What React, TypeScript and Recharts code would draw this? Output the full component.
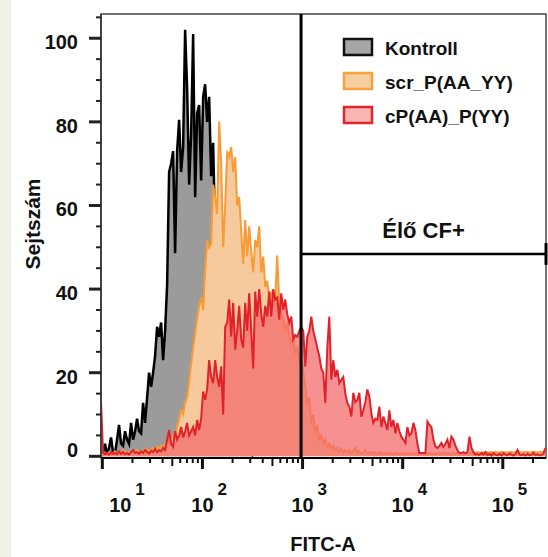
import React from "react";
import {
  ComposedChart,
  Area,
  XAxis,
  YAxis,
  ReferenceLine,
  ReferenceArea,
} from "recharts";

// histogram bins are log-spaced along FITC-A (one bin = 0.02 decade)
const BIN_LOG_START = 0.987;
const BIN_LOG_STEP = 0.02;

// cell counts per bin
const kontrollCounts = [
  0, 1, 3, 0.5, 2, 4.5, 1, 0.7, 4, 7.5,
  3, 2.5, 6, 4, 3, 8, 4, 6, 9, 6,
  5.5, 12.8, 8, 14, 20, 16.6, 20, 24, 31, 28.6,
  32, 23, 30, 41, 68, 70, 73, 48.6, 73, 80.5,
  68, 74, 102, 88, 65, 77, 101, 62, 82, 84,
  66, 86, 89, 80, 86, 67, 75, 52, 48, 44,
  40, 36, 32, 28, 24, 20, 17, 14, 11, 8,
  6, 4, 3, 2, 1, 0.5, 0,
];

const scrCounts = [
  0.5, 0.3, 0.8, 0.5, 1, 0.5, 0.8, 1.2, 0.5, 1,
  0.6, 1.5, 0.8, 1, 0.6, 1.2, 0.8, 1, 1.5, 0.8,
  1.2, 1, 1.8, 1, 1.5, 1.2, 2, 1.5, 2.2, 1.8,
  2.5, 2, 3, 3.5, 3, 4, 5, 4.7, 7, 9,
  11, 10, 13, 14, 18, 22, 26, 29.5, 33, 36,
  38, 35, 44.6, 51.8, 50, 51, 65, 62, 58, 80,
  70, 50, 60, 73, 71.6, 74, 68, 71.6, 60, 62,
  54, 46, 56.6, 47.8, 55, 49, 44, 51.8, 50, 55,
  44, 47.8, 40.6, 42, 38, 39, 36, 38, 48, 36.7,
  34, 33, 30, 32, 29, 27, 28, 25, 26, 23,
  24, 20, 17, 12, 14, 8, 10, 6, 7, 4,
  5, 3, 4, 2.3, 3, 2, 2.5, 1.5, 2, 1.2,
  1.8, 1, 1.5, 1, 1.6, 0.8, 1.2, 2, 0.8, 1.3,
  0.6, 1, 1.5, 0.7, 1, 0.6, 1.2, 0.8, 0.5, 1,
  0.6, 0.8, 0.5, 0.9, 0.6, 0.8, 0.5, 0.7, 0.9, 0.5,
  0.7, 0.6, 0.8, 0.5, 0.7, 0.6, 0.8, 0.5, 0.7, 0.6,
  0.8, 0.6, 0.7, 0.5, 0.8, 0.6, 0.7, 0.6, 0.8, 0.6,
  0.7, 0.9, 0.6, 0.8, 0.7, 0.6, 0.8, 0.7, 0.9, 0.7,
  0.8, 0.6, 0.8, 0.9, 0.7, 0.8, 0.9, 0.8, 1, 0.9,
  0.8, 1, 0.9, 1, 0.9, 1, 0.8, 1, 0.9, 1,
  1.1, 0.9, 1, 0.9, 1, 1.1, 0.9, 1, 1.2, 1,
  0.9, 1, 1.1, 1, 0.9, 1, 1.1, 1, 0.9, 1,
  1.1, 1, 2,
];

const cpCounts = [
  12.8, 1, 0.5, 0.8, 0.4, 1, 0.6, 0.8, 0.5, 1.2,
  0.6, 1, 0.5, 0.8, 0.4, 1, 1.5, 0.8, 1, 0.6,
  1.2, 0.8, 1.5, 1, 0.7, 1.3, 1, 1.8, 1, 1.5,
  1.2, 2, 1.5, 4, 6.3, 3, 2.3, 6, 4, 5,
  7, 4.5, 6, 8, 5, 6, 7, 5, 8.7, 6.3,
  9, 15.5, 13.5, 16, 23, 19, 17.5, 23, 19, 16.6,
  21.5, 10, 31, 32, 37.5, 28.7, 36.7, 25.5, 30, 36,
  28, 26, 36.7, 30, 39, 30, 21, 39.4, 33.4, 40,
  34, 31, 36, 33.4, 39.4, 33.4, 40, 37.5, 38, 32.7,
  39, 35, 37.5, 34, 32, 33.4, 28, 29, 28.6, 30,
  31, 30, 21.5, 28.6, 30, 33.4, 30, 28, 26, 24,
  21, 20, 12.8, 26, 33.4, 18.3, 23, 19, 20.7, 17.5,
  18.3, 19, 15, 12.8, 11.9, 9.5, 15.2, 13, 13.5, 15.2,
  9.5, 11, 13, 16, 14.3, 10.3, 8, 9, 8.7, 11.9,
  7, 9.5, 8, 6.3, 11, 7, 8.7, 5.5, 8, 6,
  4.7, 4, 3.2, 7, 5, 5.5, 8, 6.3, 3, 0.8,
  0.8, 0.8, 0.8, 8.3, 7.5, 7, 4, 2.3, 2, 2.5,
  3.2, 2.3, 3, 4, 2, 4.7, 4, 2.5, 1.5, 0.8,
  0.8, 1, 0.7, 1, 4.7, 2, 1, 0.4, 0.6, 0.3,
  0.8, 0.4, 1, 0.3, 0.6, 0.2, 0.8, 0.4, 0.3, 0.6,
  0.2, 0.8, 0.4, 0.3, 0.7, 0.4, 0.2, 0.6, 1.5, 0.4,
  0.3, 0.5, 0.2, 0.6, 0.3, 0.4, 0.8, 0.3, 0.5, 0.2,
  0.4, 0.6, 2,
];

const seriesNames = ["Kontroll", "scr_P(AA_YY)", "cP(AA)_P(YY)"];
const xDecades = [10, 100, 1000, 10000, 100000];
const yTicks = [0, 5, 10, 15, 20, 25, 30, 35, 40, 45, 50, 55, 60, 65, 70, 75, 80, 85, 90, 95, 100, 105];

const gateStart = 966;
const gateLevel = 48.4;
const gateLabel = "Élő CF+";

const X_DOMAIN: [number, number] = [9.7, 270000];
const Y_DOMAIN: [number, number] = [-0.4, 105.8];

const FONT = "'Liberation Sans', Arial, Helvetica, sans-serif";

const binCount = Math.max(kontrollCounts.length, scrCounts.length, cpCounts.length);
const chartData = Array.from({ length: binCount }, (_, i) => ({
  fitc: Math.pow(10, BIN_LOG_START + BIN_LOG_STEP * i),
  kontroll: i < kontrollCounts.length ? kontrollCounts[i] : null,
  scr: i < scrCounts.length ? scrCounts[i] : null,
  cp: i < cpCounts.length ? cpCounts[i] : null,
}));

const xTicks = xDecades
  .flatMap((d) => [1, 2, 3, 4, 5, 6, 7, 8, 9].map((m) => m * d))
  .filter((v) => v <= X_DOMAIN[1]);

const XTick = ({ x, y, payload }: any) => {
  const v = payload.value;
  const major = xDecades.includes(v);
  const mid = !major && String(v)[0] === "5";
  const len = major ? 11 : mid ? 8 : 5;
  const exp = Math.round(Math.log10(v));
  const shift = exp === 1 ? 18 : 0;
  return (
    <g>
      <line x1={x} x2={x} y1={y} y2={y + len} stroke="#111" strokeWidth={major ? 3 : 2} />
      {major && (
        <>
          <text x={x + shift} y={y + 54} textAnchor="middle" fontSize={20} fontWeight={700} fontFamily={FONT} fill="#111">
            10
          </text>
          <text x={x + shift + 15} y={y + 37} textAnchor="start" fontSize={17} fontWeight={700} fontFamily={FONT} fill="#111">
            {exp}
          </text>
        </>
      )}
    </g>
  );
};

const YTick = ({ x, y, payload }: any) => {
  const v = payload.value;
  const major = v % 20 === 0;
  return (
    <g>
      <line x1={x - (major ? 12 : 5)} x2={x} y1={y} y2={y} stroke="#222" strokeWidth={major ? 3 : 2} />
      {major && (
        <text x={x - 23} y={y + (v === 0 ? -6.5 : 4) + 7} textAnchor="end" fontSize={20} fontWeight={700} fontFamily={FONT} fill="#111">
          {v}
        </text>
      )}
    </g>
  );
};

const legendStyles = [
  { fill: "#a6a6a6", stroke: "#111" },
  { fill: "#f6cf9f", stroke: "#f7a23f" },
  { fill: "#f9b4b4", stroke: "#e0262c" },
];

const App = () => {
  return (
    <div style={{ position: "absolute", left: 0, top: 0, width: 548, height: 557, background: "#fff" }}>
      <div style={{ position: "absolute", left: 0, top: 0, width: 11, height: 557, background: "#eef1e5" }} />
      <ComposedChart
        width={548}
        height={557}
        data={chartData}
        margin={{ top: 14, right: 2, bottom: 0, left: 0 }}
      >
        <ReferenceArea
          x1={X_DOMAIN[0]}
          x2={X_DOMAIN[1]}
          y1={Y_DOMAIN[0]}
          y2={Y_DOMAIN[1]}
          fill="none"
          stroke="#444"
          strokeWidth={1.5}
          ifOverflow="visible"
        />
        <XAxis
          dataKey="fitc"
          type="number"
          scale="log"
          domain={X_DOMAIN}
          allowDataOverflow
          ticks={xTicks}
          interval={0}
          tick={(p: any) => <XTick {...p} />}
          tickLine={false}
          tickSize={0}
          tickMargin={0}
          height={99}
          axisLine={{ stroke: "#000", strokeWidth: 2 }}
          label={{
            content: () => (
              <text x={323} y={551} textAnchor="middle" fontSize={20} fontWeight={700} fontFamily={FONT} fill="#111">
                FITC-A
              </text>
            ),
          }}
        />
        <YAxis
          type="number"
          domain={Y_DOMAIN}
          allowDataOverflow
          ticks={yTicks}
          interval={0}
          tick={(p: any) => <YTick {...p} />}
          tickLine={false}
          tickSize={0}
          tickMargin={0}
          width={101}
          axisLine={{ stroke: "#333", strokeWidth: 1.5 }}
          label={{
            content: () => (
              <text
                x={32}
                y={232}
                transform="rotate(-90, 32, 224)"
                textAnchor="middle"
                fontSize={21}
                fontWeight={700}
                fontFamily={FONT}
                fill="#111"
              >
                Sejtszám
              </text>
            ),
          }}
        />
        <Area
          dataKey="kontroll"
          type="linear"
          stroke="#000"
          strokeWidth={2.5}
          fill="#9b9b9b"
          fillOpacity={1}
          dot={false}
          activeDot={false}
          isAnimationActive={false}
        />
        <Area
          dataKey="scr"
          type="linear"
          stroke="#f89a36"
          strokeWidth={2}
          fill="#f6ca9c"
          fillOpacity={1}
          dot={false}
          activeDot={false}
          isAnimationActive={false}
        />
        <Area
          dataKey="cp"
          type="linear"
          stroke="#e2222a"
          strokeWidth={2}
          fill="#f46c6c"
          fillOpacity={0.75}
          dot={false}
          activeDot={false}
          isAnimationActive={false}
        />
        <ReferenceLine x={gateStart} stroke="#000" strokeWidth={3} />
        <ReferenceLine
          segment={[
            { x: gateStart, y: gateLevel },
            { x: X_DOMAIN[1], y: gateLevel },
          ]}
          stroke="#000"
          strokeWidth={2.5}
          label={{
            value: gateLabel,
            position: "top",
            offset: 16,
            fill: "#111",
            fontSize: 22,
            fontWeight: 700,
            fontFamily: FONT,
          }}
        />
        <ReferenceLine
          segment={[
            { x: X_DOMAIN[1], y: gateLevel - 2.6 },
            { x: X_DOMAIN[1], y: gateLevel + 2.6 },
          ]}
          stroke="#000"
          strokeWidth={3}
        />
      </ComposedChart>
      <svg style={{ position: "absolute", left: 0, top: 0 }} width={548} height={557}>
        {seriesNames.map((name, i) => (
          <g key={name}>
            <rect
              x={344}
              y={39 + i * 34}
              width={28}
              height={16}
              fill={legendStyles[i].fill}
              stroke={legendStyles[i].stroke}
              strokeWidth={2.5}
            />
            <text x={385} y={55 + i * 34} fontSize={19} fontWeight={700} fontFamily={FONT} fill="#111">
              {name}
            </text>
          </g>
        ))}
      </svg>
    </div>
  );
};

export default App;
